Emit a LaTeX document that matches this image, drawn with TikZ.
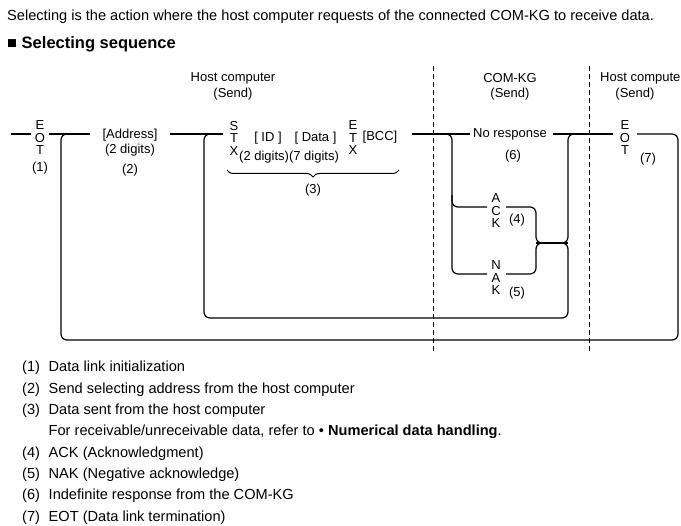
\documentclass[tikz,border=0pt]{standalone}
\usepackage{fontspec}
\setmainfont{Liberation Sans}
\usetikzlibrary{decorations.pathreplacing}
\begin{document}
\begin{tikzpicture}[x=1pt,y=-1pt,
  lbl/.style={font=\fontsize{13}{12.5}\selectfont, inner sep=0pt, align=center},
  body/.style={font=\fontsize{14.6}{17}\selectfont, inner sep=0pt, anchor=base west},
  wire/.style={line width=1.2pt, rounded corners=6pt},
  sepline/.style={line width=0.9pt, dash pattern=on 5pt off 3pt}]
\useasboundingbox (0,0) rectangle (681,526);
% header text
\node[body] (intro) at (7,21) {Selecting is the action where the host computer requests of the connected COM-KG to receive data.};
\node[body, font=\fontsize{16.5}{20}\selectfont\bfseries] (head) at (7,49) {■ Selecting sequence};
% column titles
\node[lbl] (hc1) at (233,78) {Host computer};
\node[lbl] (hs1) at (233,94) {(Send)};
\node[lbl] (kg) at (510,78) {COM-KG};
\node[lbl] (ks) at (510,94) {(Send)};
\node[lbl, anchor=west] (hc2) at (600,78) {Host compute};
\node[lbl] (hs2) at (635,94) {(Send)};
% separators
\coordinate (d1t) at (433,66); \coordinate (d1b) at (433,352);
\coordinate (d2t) at (589,66); \coordinate (d2b) at (589,352);
\draw[sepline] (d1t) -- (d1b);
\draw[sepline] (d2t) -- (d2b);
% sequence labels
\node[lbl] (eot1) at (40,138) {E\\O\\T};
\node[lbl] (n1) at (40,168) {(1)};
\node[lbl] (addr) at (130,135) {[Address]};
\node[lbl] (addrd) at (130,150.5) {(2 digits)};
\node[lbl] (n2) at (130,170) {(2)};
\node[lbl] (stx) at (234,138) {S\\T\\X};
\node[lbl] (id) at (268,138.5) {[ ID ]};
\node[lbl] (data) at (315.5,138.5) {[ Data ]};
\node[lbl] (etx) at (353,138) {E\\T\\X};
\node[lbl] (bcc) at (380,137) {[BCC]};
\node[lbl, anchor=west] (digs) at (239,157) {(2 digits)(7 digits)};
\node[lbl] (n3) at (313,190) {(3)};
\node[lbl] (nores) at (510,134) {No response};
\node[lbl] (n6) at (513,156) {(6)};
\node[lbl] (ack) at (496,211) {A\\C\\K};
\node[lbl] (n4) at (517,220) {(4)};
\node[lbl] (nak) at (496,278) {N\\A\\K};
\node[lbl] (n5) at (517,293) {(5)};
\node[lbl] (eot2) at (625,138) {E\\O\\T};
\node[lbl] (n7) at (648,159) {(7)};
% brace
\coordinate (brl) at (227,170); \coordinate (brr) at (399,170);
\draw[line width=1pt, decorate, decoration={brace, mirror, amplitude=7pt}] (brl) -- (brr);
% main line points
\coordinate (m0) at (11,134);  \coordinate (m1) at (31,134);
\coordinate (m2) at (49,134);  \coordinate (m3) at (90,134);
\coordinate (m4) at (170,134); \coordinate (m5) at (223,134);
\coordinate (m6) at (412,134); \coordinate (m7) at (470,134);
\coordinate (m8) at (553,134); \coordinate (m9) at (613,134);
\coordinate (m10) at (637,134);
\draw[wire] (m0) -- (m1);
\draw[wire] (m2) -- (m3);
\draw[wire] (m4) -- (m5);
\draw[wire] (m6) -- (m7);
\draw[wire] (m8) -- (m9);
% outer loop (after EOT back to start)
\draw[wire] (m10) -- (678,134) -- (678,340) -- (61,340) -- (61,134) -- (73,134);
% branch to ACK / NAK
\draw[wire] (440,134) -- (452,134) -- (452,274) -- (487,274);
\draw[wire] (452,195) -- (452,207) -- (487,207);
% ACK / NAK merge
\draw[wire] (506,207) -- (536,207) -- (536,243) -- (548,243);
\draw[wire] (506,274) -- (536,274) -- (536,243) -- (548,243);
\coordinate (jl) at (536,243); \coordinate (jr) at (568,243);
\draw[wire] (jl) -- (jr);
\draw[wire] (556,243) -- (568,243) -- (568,134) -- (580,134);
% inner loop back to STX
\draw[wire] (556,243) -- (568,243) -- (568,318) -- (204,318) -- (204,134) -- (216,134);
% legend
\foreach \k/\t [count=\i from 0] in {(1)/Data link initialization, (2)/Send selecting address from the host computer, (3)/Data sent from the host computer} {
  \node[body] (ln\i) at (22,372+21.3*\i) {\k};
  \node[body] (lt\i) at (48.5,372+21.3*\i) {\t};
}
\node[body] (lfor) at (48.5,435.9) {For receivable/unreceivable data, refer to • \textbf{Numerical data handling}.};
\foreach \k/\t [count=\i from 4] in {(4)/ACK (Acknowledgment), (5)/NAK (Negative acknowledge), (6)/Indefinite response from the COM-KG, (7)/EOT (Data link termination)} {
  \node[body] (ln\i) at (22,372+21.3*\i) {\k};
  \node[body] (lt\i) at (48.5,372+21.3*\i) {\t};
}
\end{tikzpicture}
\end{document}
